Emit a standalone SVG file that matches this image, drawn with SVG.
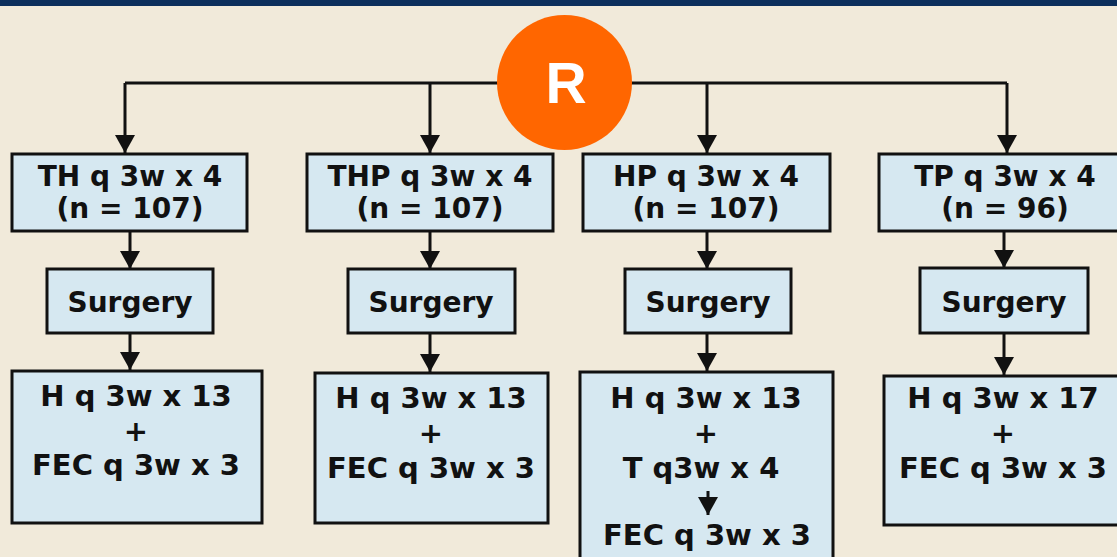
<svg xmlns="http://www.w3.org/2000/svg" width="1117" height="557" viewBox="0 0 1117 557">
<style>
.box{fill:#d6e8f1;stroke:#111;stroke-width:3}
.t{font-family:"DejaVu Sans",Verdana,sans-serif;font-weight:bold;font-size:29px;fill:#111;text-anchor:middle}
.h{font-size:28px}
.s{font-size:28px}
.c{fill:none;stroke:#111;stroke-width:3}
</style>
<defs>
<marker id="ah" markerUnits="userSpaceOnUse" markerWidth="18" markerHeight="20" viewBox="0 0 18 20" refX="18" refY="10" orient="auto">
<path d="M0,0 L18,10 L0,20 z" fill="#111"/>
</marker>
</defs>
<rect x="0" y="0" width="1117" height="557" fill="#f1eada"/>
<rect x="0" y="0" width="1117" height="6" fill="#0c2f5c"/>
<g id="connectors">
<path class="c" d="M125,83 H1007"/>
<path class="c" d="M125,83 V153" marker-end="url(#ah)"/>
<path class="c" d="M430,83 V153" marker-end="url(#ah)"/>
<path class="c" d="M707,83 V153" marker-end="url(#ah)"/>
<path class="c" d="M1007,83 V153" marker-end="url(#ah)"/>
<path class="c" d="M130,231 V269" marker-end="url(#ah)"/>
<path class="c" d="M430,231 V269" marker-end="url(#ah)"/>
<path class="c" d="M707,231 V269" marker-end="url(#ah)"/>
<path class="c" d="M1004,231 V268" marker-end="url(#ah)"/>
<path class="c" d="M130,333 V370" marker-end="url(#ah)"/>
<path class="c" d="M430,333 V372" marker-end="url(#ah)"/>
<path class="c" d="M707,333 V371" marker-end="url(#ah)"/>
<path class="c" d="M1004,333 V375" marker-end="url(#ah)"/>
</g>
<g id="R">
<circle cx="564.5" cy="82.5" r="67.5" fill="#ff6600"/>
<text x="566" y="103" font-family="'Liberation Sans',Arial,sans-serif" font-weight="bold" font-size="57" fill="#fff" text-anchor="middle">R</text>
</g>
<g id="arm1">
<rect class="box" x="12" y="154" width="235" height="77"/>
<text class="t h" x="130" y="186">TH q 3w x 4</text>
<text class="t h" x="130" y="218">(n = 107)</text>
</g>
<g id="arm2">
<rect class="box" x="307" y="154" width="246" height="77"/>
<text class="t h" x="430" y="186">THP q 3w x 4</text>
<text class="t h" x="430" y="218">(n = 107)</text>
</g>
<g id="arm3">
<rect class="box" x="583" y="154" width="247" height="77"/>
<text class="t h" x="706" y="186">HP q 3w x 4</text>
<text class="t h" x="706" y="218">(n = 107)</text>
</g>
<g id="arm4">
<rect class="box" x="879" y="154" width="250" height="77"/>
<text class="t h" x="1005" y="186">TP q 3w x 4</text>
<text class="t h" x="1005" y="218">(n = 96)</text>
</g>
<g id="surgery1">
<rect class="box" x="47" y="269" width="166" height="64"/>
<text class="t s" x="130" y="312">Surgery</text>
</g>
<g id="surgery2">
<rect class="box" x="348" y="269" width="167" height="64"/>
<text class="t s" x="431" y="312">Surgery</text>
</g>
<g id="surgery3">
<rect class="box" x="625" y="269" width="166" height="64"/>
<text class="t s" x="708" y="312">Surgery</text>
</g>
<g id="surgery4">
<rect class="box" x="920" y="268" width="168" height="65"/>
<text class="t s" x="1004" y="312">Surgery</text>
</g>
<g id="post1">
<rect class="box" x="12" y="371" width="250" height="152"/>
<text class="t" x="136" y="406">H q 3w x 13</text>
<text class="t" x="136" y="441">+</text>
<text class="t" x="136" y="475">FEC q 3w x 3</text>
</g>
<g id="post2">
<rect class="box" x="315" y="373" width="233" height="150"/>
<text class="t" x="431" y="408">H q 3w x 13</text>
<text class="t" x="431" y="443">+</text>
<text class="t" x="431" y="478">FEC q 3w x 3</text>
</g>
<g id="post3">
<rect class="box" x="580" y="372" width="253" height="200"/>
<text class="t" x="706" y="408">H q 3w x 13</text>
<text class="t" x="706" y="443">+</text>
<text class="t" x="701" y="478">T q3w x 4</text>
<path class="c" d="M708,491 V515" marker-end="url(#ah)"/>
<text class="t" x="707" y="545">FEC q 3w x 3</text>
</g>
<g id="post4">
<rect class="box" x="884" y="376" width="240" height="149"/>
<text class="t" x="1003" y="408">H q 3w x 17</text>
<text class="t" x="1003" y="443">+</text>
<text class="t" x="1003" y="478">FEC q 3w x 3</text>
</g>
</svg>
